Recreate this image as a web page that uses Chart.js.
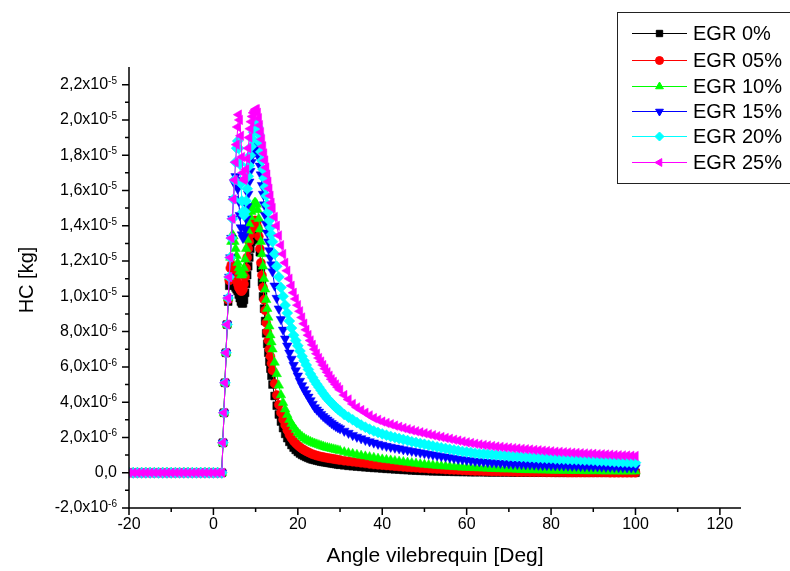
<!DOCTYPE html>
<html>
<head>
<meta charset="utf-8">
<script src="https://cdn.jsdelivr.net/npm/chart.js@4.4.1/dist/chart.umd.min.js"></script>
<style>
  html, body { margin: 0; background: #fff; }
  #wrap { width: 790px; height: 571px; }
</style>
</head>
<body>
<div id="wrap"><canvas id="chart" width="790" height="571"></canvas></div>
<script>
// crank angle [deg]
const angle = [
  -20,-19,-18,-17,-16,-15,-14,-13,-12,-11,-10,-9,-8,-7,-6,-5,-4,-3,-2,-1,0,1,
  2,2.25,2.5,2.75,3,3.25,3.5,3.75,4,4.25,4.5,4.75,5,5.25,5.5,5.75,6,6.25,6.5,6.75,7,7.25,7.5,7.75,
  8,8.25,8.5,8.75,9,9.25,9.5,9.75,10,10.25,10.5,10.75,11,11.25,11.5,11.75,12,12.25,12.5,12.75,13,13.25,13.5,13.75,14,
  14.5,15,15.5,16,16.5,17,17.5,18,18.5,19,19.5,20,20.5,21,21.5,22,22.5,23,23.5,24,24.5,25,25.5,26,26.5,27,27.5,28,28.5,29,29.5,30,
  31,32,33,34,35,36,37,38,39,40,41,42,43,44,45,46,47,48,49,50,51,52,53,54,55,56,57,58,59,60,
  61,62,63,64,65,66,67,68,69,70,71,72,73,74,75,76,77,78,79,80,81,82,83,84,85,86,87,88,89,90,
  91,92,93,94,95,96,97,98,99,100
];

// HC in units of 1e-6 kg
const egr0 = [
  0,0,0,0,0,0,0,0,0,0,0, 0,0,0,0,0,0,0,0,0,0,0,
  0,1.7,3.4,5.1,6.8,8.4,9.7,10.6,10.9,10.9,10.8,10.7,10.6,10.5,10.4,10.3,10.1,9.9,9.7,9.6,9.6,9.8,10.2,10.7,
  11.2,11.7,12.2,12.7,13.1,13.4,13.6,13.8,13.9,13.9,13.7,13.2,12.5,11.6,10.8,10.0,9.3,8.6,7.9,7.3,6.8,6.3,5.9,5.5,5.0,
  4.35,3.8,3.3,2.9,2.53,2.2,1.96,1.75,1.57,1.42,1.29,1.18,1.09,1.01,0.95,0.89,0.84,0.79,0.75,0.72,0.69,0.66,0.63,0.61,0.59,0.57,0.55,0.53,0.51,0.49,0.47,0.45,
  0.42,0.39,0.37,0.35,0.33,0.31,0.29,0.27,0.26,0.24,0.22,0.21,0.19,0.18,0.16,0.15,0.13,0.12,0.11,0.1,
  0.09,0.08,0.08,0.07,0.06,0.06,0.05,0.05,0.04,0.04,0.03,0.03,0.03,0.03,0.02,0.02,0.02,0.02,0.02,0.02,
  0.01,0.01,0.01,0.01,0.01,0.01,0.01,0.01,0.01,0.01,0,0,0,0,0,0,0,0,0,0,
  0,0,0,0,0,0,0,0,0,0
];
const egr05 = [
  0,0,0,0,0,0,0,0,0,0,0, 0,0,0,0,0,0,0,0,0,0,0,
  0,1.7,3.4,5.1,6.8,8.4,9.8,10.9,11.6,11.8,11.7,11.5,11.3,11.1,10.9,10.7,10.5,10.4,10.3,10.3,10.4,10.7,11.1,11.6,
  12.2,12.7,13.1,13.5,13.8,14.0,14.2,14.3,14.3,14.2,13.9,13.4,12.7,11.9,11.2,10.5,9.8,9.2,8.5,8.0,7.5,7.0,6.6,6.2,5.8,
  5.05,4.4,3.85,3.4,3.02,2.7,2.41,2.15,1.96,1.8,1.67,1.55,1.45,1.36,1.29,1.22,1.16,1.1,1.05,1.01,0.97,0.94,0.91,0.89,0.86,0.84,0.82,0.8,0.78,0.76,0.74,0.72,
  0.68,0.65,0.62,0.59,0.56,0.53,0.5,0.47,0.45,0.43,0.41,0.39,0.37,0.35,0.33,0.31,0.29,0.28,0.26,0.25,
  0.23,0.22,0.21,0.2,0.18,0.17,0.16,0.15,0.13,0.12,0.11,0.1,0.1,0.09,0.08,0.07,0.07,0.06,0.06,0.05,
  0.05,0.04,0.04,0.04,0.03,0.03,0.03,0.03,0.02,0.02,0.02,0.02,0.02,0.01,0.01,0.01,0.01,0.01,0.01,0.01,
  0.01,0.01,0.01,0,0,0,0,0,0,0
];
const egr10 = [
  0,0,0,0,0,0,0,0,0,0,0, 0,0,0,0,0,0,0,0,0,0,0,
  0,1.7,3.4,5.1,6.8,8.4,9.9,11.1,12.2,13.1,13.5,13.4,13.1,12.7,12.3,11.9,11.6,11.4,11.2,11.2,11.3,11.6,12.1,12.7,
  13.2,13.7,14.1,14.5,14.8,15.0,15.2,15.3,15.3,15.2,14.9,14.4,13.8,13.1,12.4,11.7,11.0,10.4,9.8,9.3,8.8,8.3,7.8,7.4,7.0,
  6.25,5.6,4.95,4.4,3.97,3.6,3.28,3.0,2.78,2.6,2.43,2.27,2.15,2.04,1.95,1.87,1.81,1.75,1.7,1.65,1.61,1.57,1.53,1.49,1.45,1.42,1.39,1.36,1.33,1.3,1.27,1.24,
  1.17,1.12,1.07,1.02,0.97,0.93,0.89,0.85,0.8,0.76,0.73,0.7,0.67,0.64,0.61,0.58,0.55,0.52,0.49,0.46,
  0.44,0.42,0.4,0.38,0.36,0.35,0.33,0.32,0.3,0.29,0.28,0.27,0.26,0.25,0.24,0.23,0.22,0.21,0.2,0.2,
  0.19,0.18,0.17,0.16,0.16,0.15,0.15,0.14,0.14,0.13,0.13,0.12,0.12,0.12,0.11,0.11,0.11,0.1,0.1,0.1,
  0.1,0.09,0.09,0.09,0.09,0.08,0.08,0.08,0.08,0.08
];
const egr15 = [
  0,0,0,0,0,0,0,0,0,0,0, 0,0,0,0,0,0,0,0,0,0,0,
  0,1.7,3.4,5.1,6.8,8.4,9.9,11.1,12.2,13.3,14.4,15.5,16.4,16.8,16.6,16.1,15.4,14.6,13.9,13.5,13.3,13.4,13.8,14.4,
  15.1,15.8,16.5,17.1,17.6,18.0,18.3,18.5,18.6,18.5,18.3,17.9,17.4,16.9,16.3,15.8,15.2,14.6,14.1,13.6,13.1,12.6,12.2,11.8,11.4,
  10.6,9.9,9.3,8.7,8.1,7.6,7.2,6.8,6.45,6.1,5.8,5.5,5.2,4.95,4.72,4.5,4.3,4.1,3.9,3.7,3.57,3.45,3.32,3.2,3.1,3.0,2.9,2.8,2.72,2.64,2.57,2.5,
  2.37,2.25,2.13,2.03,1.94,1.85,1.77,1.7,1.63,1.57,1.51,1.46,1.41,1.37,1.32,1.28,1.23,1.19,1.14,1.1,
  1.06,1.02,0.98,0.94,0.9,0.86,0.82,0.78,0.75,0.72,0.69,0.66,0.64,0.62,0.6,0.58,0.56,0.55,0.53,0.52,
  0.5,0.49,0.48,0.47,0.46,0.45,0.44,0.43,0.43,0.42,0.41,0.41,0.4,0.39,0.38,0.38,0.37,0.36,0.36,0.35,
  0.35,0.34,0.33,0.33,0.32,0.31,0.31,0.3,0.3,0.29
];
const egr20 = [
  0,0,0,0,0,0,0,0,0,0,0, 0,0,0,0,0,0,0,0,0,0,0,
  0,1.7,3.4,5.1,6.8,8.4,9.9,11.1,12.2,13.3,14.4,15.5,16.6,17.6,18.4,18.8,18.4,17.5,16.4,15.4,14.8,14.6,14.8,15.4,
  16.1,16.8,17.4,18.0,18.5,18.9,19.3,19.6,19.8,19.8,19.6,19.2,18.7,18.2,17.7,17.2,16.7,16.2,15.7,15.2,14.8,14.3,13.9,13.5,13.1,
  12.4,11.7,11.1,10.5,10.0,9.5,9.05,8.6,8.2,7.8,7.5,7.2,6.9,6.6,6.35,6.1,5.85,5.6,5.4,5.2,5.02,4.85,4.67,4.5,4.35,4.2,4.07,3.95,3.82,3.7,3.6,3.5,
  3.3,3.15,3.0,2.85,2.7,2.58,2.47,2.37,2.28,2.2,2.13,2.06,2.0,1.94,1.88,1.82,1.76,1.71,1.66,1.61,
  1.56,1.51,1.46,1.42,1.37,1.33,1.29,1.25,1.21,1.17,1.14,1.11,1.08,1.06,1.04,1.02,1.0,0.98,0.96,0.94,
  0.92,0.91,0.89,0.88,0.86,0.85,0.83,0.82,0.81,0.8,0.78,0.77,0.76,0.75,0.74,0.73,0.72,0.71,0.7,0.69,
  0.67,0.66,0.65,0.64,0.62,0.61,0.6,0.59,0.58,0.57
];
const egr25 = [
  0,0,0,0,0,0,0,0,0,0,0, 0,0,0,0,0,0,0,0,0,0,0,
  0,1.7,3.4,5.1,6.8,8.4,9.9,11.1,12.2,13.3,14.4,15.5,16.6,17.6,18.6,19.6,20.3,20.0,19.1,17.9,17.0,16.6,16.7,17.2,
  17.8,18.4,19.0,19.5,19.9,20.2,20.4,20.5,20.6,20.6,20.4,20.1,19.7,19.3,18.9,18.5,18.1,17.7,17.3,16.9,16.5,16.1,15.7,15.3,15.0,
  14.5,14.0,13.45,12.9,12.4,11.9,11.45,11.0,10.6,10.2,9.85,9.5,9.15,8.8,8.45,8.1,7.8,7.5,7.25,7.0,6.75,6.5,6.3,6.1,5.9,5.7,5.5,5.3,5.15,5.0,4.85,4.7,
  4.4,4.15,3.9,3.7,3.55,3.4,3.25,3.1,3.0,2.9,2.82,2.75,2.67,2.6,2.53,2.47,2.41,2.35,2.29,2.24,
  2.18,2.13,2.07,2.02,1.97,1.92,1.87,1.82,1.77,1.72,1.68,1.64,1.6,1.57,1.54,1.51,1.48,1.46,1.43,1.41,
  1.39,1.37,1.35,1.33,1.31,1.29,1.27,1.25,1.23,1.21,1.19,1.18,1.16,1.15,1.13,1.12,1.1,1.09,1.08,1.07,
  1.05,1.04,1.03,1.02,1.0,0.99,0.98,0.97,0.96,0.95
];

const seriesNames = ['EGR 0%', 'EGR 05%', 'EGR 10%', 'EGR 15%', 'EGR 20%', 'EGR 25%'];
const seriesValues = [egr0, egr05, egr10, egr15, egr20, egr25];
const seriesColors = ['#000000', '#ff0000', '#00ff00', '#0000ff', '#00ffff', '#ff00ff'];
const seriesStyles = ['rect', 'circle', 'triangle', 'triangle', 'rectRot', 'triangle'];
const seriesRotation = [0, 0, 0, 180, 0, 270];
const seriesRadius = [5.5, 4.5, 5.5, 5.5, 5.5, 5.5];
const legendRadius = [4.5, 4, 4.5, 4.5, 4.5, 4.5];

// axis ticks
const xTicks = [-20, 0, 20, 40, 60, 80, 100, 120];
const xMinor = [-10, 10, 30, 50, 70, 90, 110];
const yTicks = [-2, 0, 2, 4, 6, 8, 10, 12, 14, 16, 18, 20, 22];
const yTickText = ['-2,0', '0,0', '2,0', '4,0', '6,0', '8,0', '1,0', '1,2', '1,4', '1,6', '1,8', '2,0', '2,2'];
const yTickExp = ['-6', '', '-6', '-6', '-6', '-6', '-5', '-5', '-5', '-5', '-5', '-5', '-5'];
const yMinor = [-1, 1, 3, 5, 7, 9, 11, 13, 15, 17, 19, 21];

const FONT = "'Liberation Sans', Arial, sans-serif";

seriesValues.forEach((v, i) => {
  if (v.length !== angle.length) console.warn(seriesNames[i], v.length, angle.length);
});

const datasets = seriesValues.map((vals, i) => ({
  label: seriesNames[i],
  data: angle.map((a, k) => ({ x: a, y: vals[k] })),
  showLine: true,
  borderColor: seriesColors[i],
  backgroundColor: seriesColors[i],
  borderWidth: 1,
  pointStyle: seriesStyles[i],
  rotation: seriesRotation[i],
  pointRadius: seriesRadius[i],
  pointBorderWidth: 0.5,
  pointBorderColor: seriesColors[i],
  pointBackgroundColor: seriesColors[i],
  order: 5 - i
}));

const originAxes = {
  id: 'originAxes',
  afterDraw(chart) {
    const { ctx, chartArea: a, scales: { x, y } } = chart;
    ctx.save();
    ctx.strokeStyle = '#000';
    ctx.fillStyle = '#000';
    ctx.lineWidth = 1.5;
    ctx.beginPath();
    ctx.moveTo(a.left, a.top);
    ctx.lineTo(a.left, a.bottom);
    ctx.lineTo(a.right, a.bottom);
    ctx.stroke();

    // ticks
    ctx.beginPath();
    yTicks.forEach(v => { const py = y.getPixelForValue(v); ctx.moveTo(a.left - 7, py); ctx.lineTo(a.left, py); });
    yMinor.forEach(v => { const py = y.getPixelForValue(v); ctx.moveTo(a.left - 4, py); ctx.lineTo(a.left, py); });
    xTicks.forEach(v => { const px = x.getPixelForValue(v); ctx.moveTo(px, a.bottom); ctx.lineTo(px, a.bottom + 7); });
    xMinor.forEach(v => { const px = x.getPixelForValue(v); ctx.moveTo(px, a.bottom); ctx.lineTo(px, a.bottom + 4); });
    ctx.stroke();

    // x tick labels
    ctx.font = '16px ' + FONT;
    ctx.textAlign = 'center';
    ctx.textBaseline = 'middle';
    xTicks.forEach(v => ctx.fillText(String(v), x.getPixelForValue(v), a.bottom + 17));

    // y tick labels with superscript exponent
    const right = a.left - 12;
    yTicks.forEach((v, i) => {
      const py = y.getPixelForValue(v);
      const main = yTickText[i] + (yTickExp[i] ? 'x10' : '');
      ctx.font = '16px ' + FONT;
      const wm = ctx.measureText(main).width;
      ctx.font = '10px ' + FONT;
      const we = yTickExp[i] ? ctx.measureText(yTickExp[i]).width : 0;
      ctx.textAlign = 'left';
      ctx.font = '16px ' + FONT;
      ctx.textBaseline = 'middle';
      ctx.fillText(main, right - wm - we, py);
      if (yTickExp[i]) {
        ctx.font = '10px ' + FONT;
        ctx.textBaseline = 'alphabetic';
        ctx.fillText(yTickExp[i], right - we, py - 1);
      }
    });

    // axis titles
    ctx.font = '21px ' + FONT;
    ctx.textAlign = 'center';
    ctx.textBaseline = 'middle';
    ctx.fillText('Angle vilebrequin [Deg]', (a.left + a.right) / 2, 556);
    ctx.save();
    ctx.translate(27, 280);
    ctx.rotate(-Math.PI / 2);
    ctx.font = '20px ' + FONT;
    ctx.fillText('HC [kg]', 0, 0);
    ctx.restore();

    // legend
    ctx.lineWidth = 1;
    ctx.strokeStyle = '#222';
    ctx.strokeRect(617.5, 12.5, 200, 171);
    const rowY = [33, 60, 86, 111, 136, 162];
    seriesNames.forEach((name, i) => {
      const ry = rowY[i];
      ctx.strokeStyle = seriesColors[i];
      ctx.fillStyle = seriesColors[i];
      ctx.lineWidth = 1;
      ctx.beginPath();
      ctx.moveTo(632, ry + 0.5);
      ctx.lineTo(687, ry + 0.5);
      ctx.stroke();
      Chart.helpers.drawPoint(ctx, {
        pointStyle: seriesStyles[i], rotation: seriesRotation[i],
        radius: legendRadius[i], borderWidth: 0.5
      }, 659.5, ry + 0.5);
      ctx.fillStyle = '#000';
      ctx.font = '20px ' + FONT;
      ctx.textAlign = 'left';
      ctx.textBaseline = 'middle';
      ctx.fillText(name, 693, ry + 1);
    });
    ctx.restore();
  }
};

new Chart(document.getElementById('chart'), {
  type: 'scatter',
  data: { datasets },
  options: {
    responsive: false,
    devicePixelRatio: 1,
    animation: false,
    layout: { padding: { top: 67, right: 49, left: 0, bottom: 0 } },
    plugins: { legend: { display: false }, tooltip: { enabled: false } },
    scales: {
      x: {
        type: 'linear', min: -20, max: 125,
        grid: { display: false }, border: { display: false },
        ticks: { display: false },
        afterFit(s) { s.height = 571 - 508; }
      },
      y: {
        type: 'linear', min: -2, max: 23,
        grid: { display: false }, border: { display: false },
        ticks: { display: false },
        afterFit(s) { s.width = 129; }
      }
    }
  },
  plugins: [originAxes]
});
</script>
</body>
</html>
